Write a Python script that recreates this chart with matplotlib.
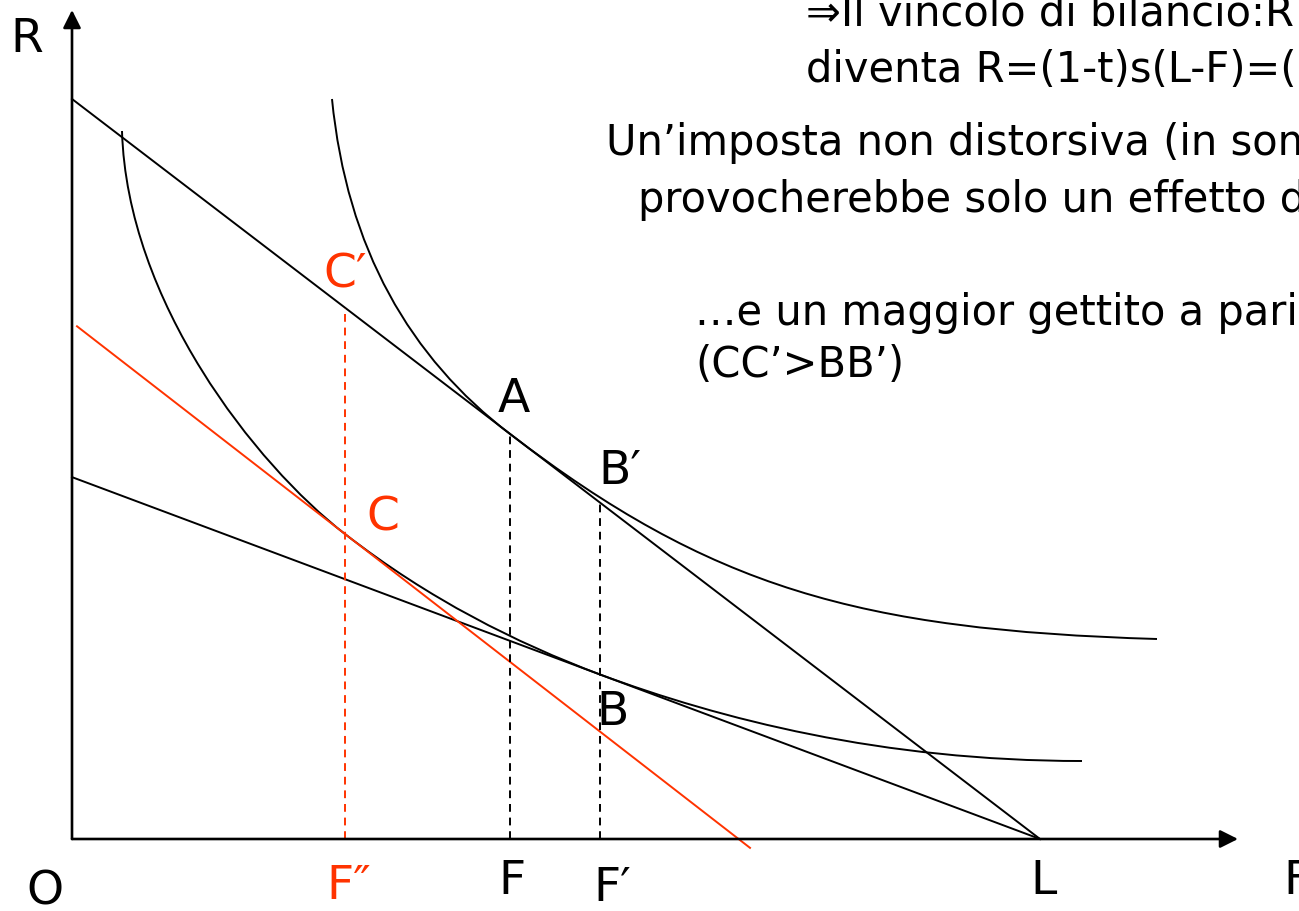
# scelta tempo libero-reddito: imposta sul salario vs imposta in somma fissa
import matplotlib.pyplot as plt
import numpy as np
from matplotlib.path import Path
from matplotlib.patches import PathPatch

plt.rcParams["font.family"] = ["DejaVu Sans"]

RED = "#FF3300"

# parametri del modello (unità arbitrarie)
L = 9.68              # dotazione di tempo
s = 0.7645            # salario
t = 0.511             # aliquota sul salario
red_slope = 0.775     # vincolo con imposta in somma fissa
red_intercept = 5.166
red_span = [0.05, 6.78]

# punti notevoli (F, R)
F_A, R_A = 4.38, 4.05
F_B, R_B = 5.28, 1.645
F_Bp, R_Bp = 5.28, 3.40
F_C, R_C = 2.73, 3.05
F_Cp, R_Cp = 2.73, 5.31

# curve di indifferenza: punti di controllo delle Bézier cubiche
U1_pts = [(2.60, 7.40), (2.75, 5.90), (3.38, 4.815), (F_A, R_A),
          (6.38, 2.521), (7.85, 2.09), (10.85, 2.00)]
U0_pts = [(0.50, 7.08), (0.55, 5.38), (1.83, 3.748), (F_C, R_C),
          (3.58, 2.391), (4.43, 1.968), (F_B, R_B),
          (6.48, 1.201), (8.10, 0.78), (10.10, 0.78)]

fig = plt.figure(figsize=(12.99, 9.12), dpi=100)
ax = fig.add_axes([0, 0, 1, 1])
ax.set_xlim(-0.72, 12.27)
ax.set_ylim(-0.72, 8.40)
ax.axis("off")

# assi con frecce
arrow = dict(arrowstyle="-|>,head_length=0.6,head_width=0.3", color="black",
             lw=1.9, shrinkA=0, shrinkB=0, mutation_scale=18)
ax.annotate("", xy=(11.66, 0), xytext=(0, 0), arrowprops=arrow)
ax.annotate("", xy=(0, 8.29), xytext=(0, 0), arrowprops=arrow)

# vincoli di bilancio
F = np.array([0, L])
ax.plot(F, s * (L - F), color="black", lw=1.4)
ax.plot(F, (1 - t) * s * (L - F), color="black", lw=1.4)
Fr = np.array(red_span)
ax.plot(Fr, red_intercept - red_slope * Fr, color=RED, lw=1.4)


def bezier(pts):
    codes = [Path.MOVETO] + [Path.CURVE4] * (len(pts) - 1)
    return PathPatch(Path(pts, codes), fill=False, color="black", lw=1.4)


ax.add_patch(bezier(U1_pts))
ax.add_patch(bezier(U0_pts))

# tratteggi verticali
ax.plot([F_Cp, F_Cp], [0, R_Cp], color=RED, lw=1.4, ls=(0, (4, 3)))
ax.plot([F_A, F_A], [0, R_A], color="black", lw=1.4, ls=(0, (4, 3)))
ax.plot([F_Bp, F_Bp], [0, R_Bp], color="black", lw=1.4, ls=(0, (4, 3)))


def px(x, y):
    return x / 1299, 1 - y / 912


lab = dict(fontsize=34, ha="center", va="center")
fig.text(*px(27, 40), "R", **lab)
fig.text(*px(45, 892), "O", **lab)
fig.text(*px(349, 887), "F\u2033", color=RED, **lab)
fig.text(*px(512, 882), "F", **lab)
fig.text(*px(612, 889), "F\u2032", **lab)
fig.text(*px(1044, 882), "L", **lab)
fig.text(*px(1283, 882), "F", fontsize=34, ha="left", va="center")
fig.text(*px(345, 275), "C\u2032", color=RED, **lab)
fig.text(*px(514, 400), "A", **lab)
fig.text(*px(620, 472), "B\u2032", **lab)
fig.text(*px(383, 518), "C", color=RED, **lab)
fig.text(*px(613, 713), "B", **lab)

body = dict(fontsize=30, ha="left", va="baseline")
fig.text(*px(806, 25), "\u21d2Il vincolo di bilancio:R", **body)
fig.text(*px(806, 82), "diventa R=(1-t)s(L-F)=(", **body)
fig.text(*px(606, 155), "Un\u2019imposta non distorsiva (in som", **body)
fig.text(*px(638, 212), "provocherebbe solo un effetto d", **body)
fig.text(*px(695, 325), "\u2026e un maggior gettito a pari", **body)
fig.text(*px(695, 377), "(CC\u2019>BB\u2019)", **body)

fig.savefig("out.png", dpi=100)
